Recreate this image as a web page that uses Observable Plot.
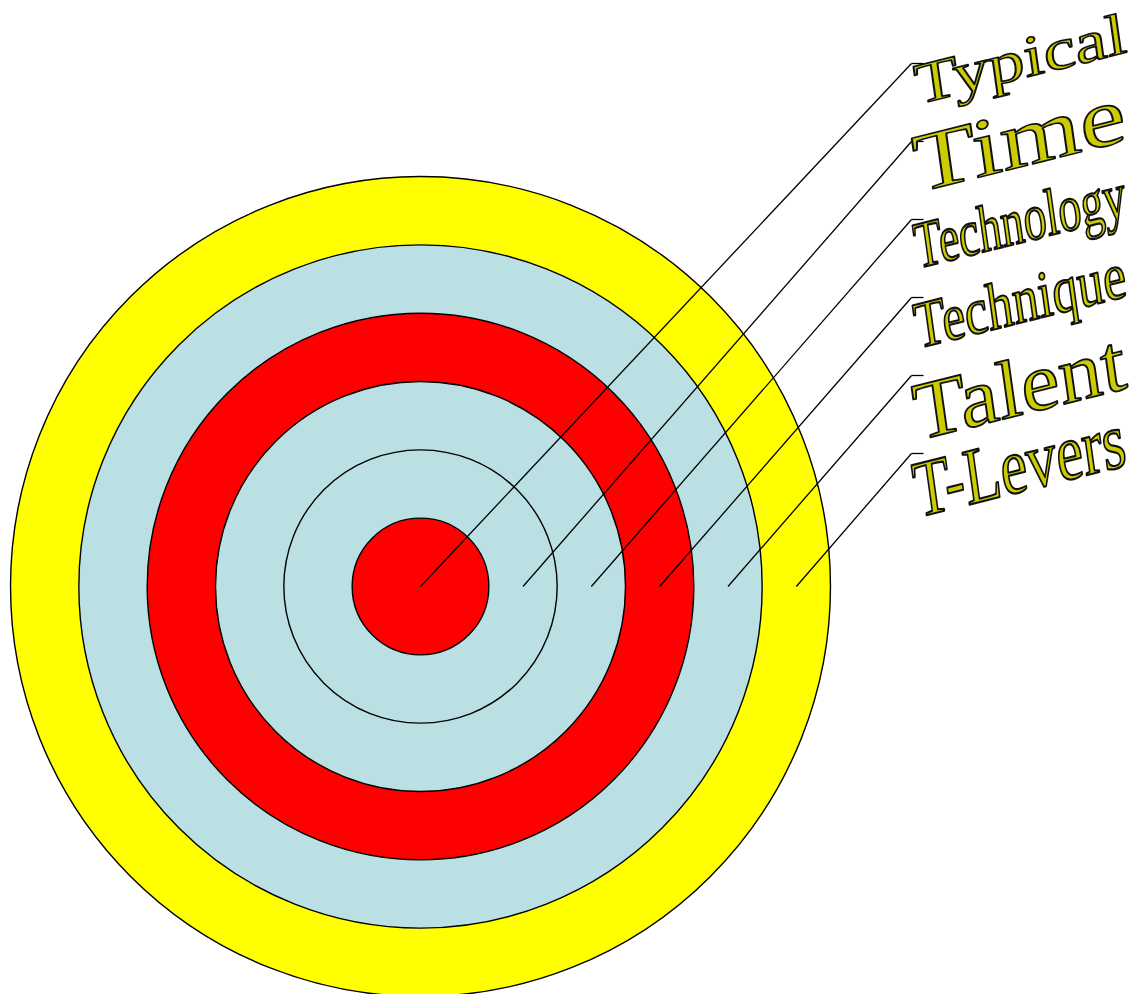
<!DOCTYPE html>
<html><head><meta charset="utf-8">
<script src="https://cdn.jsdelivr.net/npm/d3@7"></script>
<script src="https://cdn.jsdelivr.net/npm/@observablehq/plot@0.6"></script>
<style>body{margin:0;background:#fff} #chart svg{display:block}</style>
</head><body><div id="chart"></div>
<script>
// ---- data ----
const labels = ["Typical", "Time", "Technology", "Technique", "Talent", "T-Levers"];
const ringRadius = [6, 5, 4, 3, 2, 1];
const ringFill = ["#ffff00", "#bbe0e3", "#ff0000", "#bbe0e3", "#bbe0e3", "#ff0000"];
const pointerFrom = [0, 1.5, 2.5, 3.5, 4.5, 5.5]; // radius where each leader line starts

// ---- layout / styles ----
const W = 1139, H = 994, unit = 68.33, cx = 420, cy = 586;
const px2x = p => (p - cx) / unit, px2y = p => (cy - p) / unit;
const hookX0 = px2x(911), hookX1 = px2x(923);
const hookYpx = i => 63 + 78 * i;
const labelXpx = 917;
const labelBaselinePx = [104, 192, 268, 348, 440, 517];
const labelFontSize = [58, 83, 66, 66, 82, 80];
const labelLength = 216;

const rings = ringRadius.map((r, i) => ({r, fill: ringFill[i]}));
const leaders = labels.map((l, i) => ({
  x1: pointerFrom[i], y1: 0,
  x2: hookX0, y2: px2y(hookYpx(i)),
  x3: hookX1
}));
const texts = labels.map((l, i) => ({text: l, x: px2x(labelXpx), y: px2y(labelBaselinePx[i]), fs: labelFontSize[i]}));

const chart = Plot.plot({
  width: W, height: H,
  margin: 0,
  x: {domain: [px2x(0), px2x(W)], axis: null},
  y: {domain: [px2y(H), px2y(0)], axis: null},
  r: {type: "linear", domain: [0, 6], range: [0, 6 * unit]},
  color: {type: "identity"},
  marks: [
    Plot.dot(rings, {x: () => 0, y: () => 0, r: "r", fill: "fill", stroke: "black", strokeWidth: 1.4, sort: null}),
    Plot.link(leaders, {x1: "x1", y1: "y1", x2: "x2", y2: "y2", stroke: "black", strokeWidth: 1.3}),
    Plot.link(leaders, {x1: "x2", y1: "y2", x2: "x3", y2: "y2", stroke: "black", strokeWidth: 1.3}),
    Plot.text(texts, {x: "x", y: "y", text: "text", fontSize: "fs", textAnchor: "start", rotate: -8,
      fontFamily: "Liberation Serif", fill: "#cccc00", stroke: "#111", strokeWidth: 1.9})
  ]
});
document.getElementById("chart").appendChild(chart);

// WordArt-like shaping: skew the baseline and stretch each word to a fixed length
chart.querySelectorAll('g[aria-label="text"] text').forEach(t => {
  t.removeAttribute("y");
  t.removeAttribute("dy");
  const natural = t.getComputedTextLength();
  const sx = labelLength / natural;
  t.setAttribute("transform", (t.getAttribute("transform") || "") + ` skewY(-6) scale(${sx},1)`);
  t.setAttribute("paint-order", "fill");
  t.style.paintOrder = "fill";
  t.setAttribute("vector-effect", "non-scaling-stroke");
});
</script>
</body></html>
